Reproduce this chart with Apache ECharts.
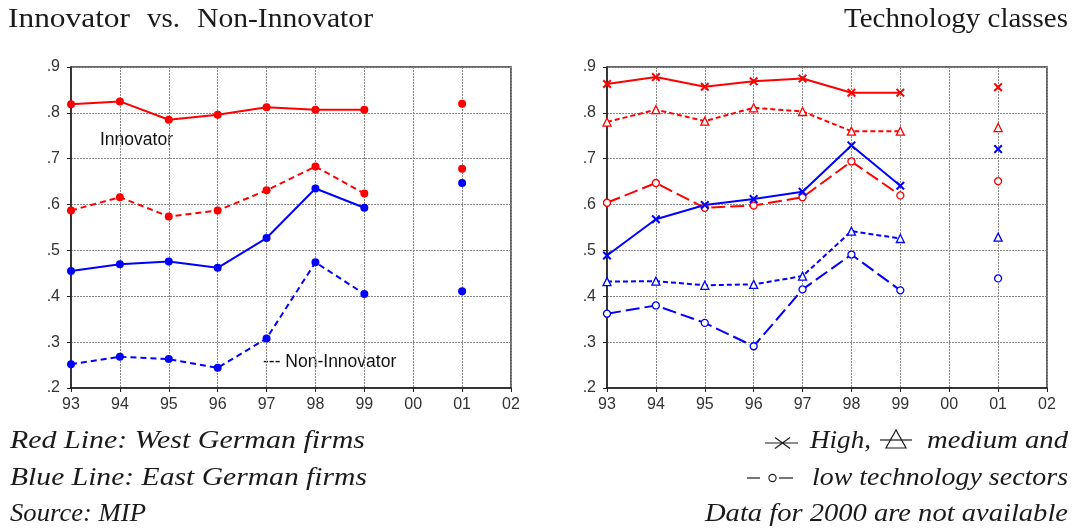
<!DOCTYPE html>
<html>
<head>
<meta charset="utf-8">
<script src="https://cdn.jsdelivr.net/npm/echarts@6/dist/echarts.min.js"></script>
<style>html,body{margin:0;padding:0;background:#fff;}#c{width:1073px;height:529px;}</style>
</head>
<body>
<div id="c"></div>
<script>
const years = ['93','94','95','96','97','98','99','00','01','02'];
const yTicks = ['.2','.3','.4','.5','.6','.7','.8','.9'];
// Left panel: innovator / non-innovator shares
const innovWest    = [0.819,0.825,0.785,0.796,0.812,0.807,0.807,null,0.820,null];
const nonInnovWest = [0.587,0.616,0.574,0.587,0.631,0.683,0.624,null,0.678,null];
const innovEast    = [0.455,0.470,0.476,0.462,0.527,0.635,0.593,null,0.647,null];
const nonInnovEast = [0.252,0.268,0.263,0.244,0.308,0.474,0.405,null,0.411,null];
// Right panel: technology classes
const highWest = [0.863,0.878,0.857,0.869,0.875,0.844,0.844,null,0.856,null];
const medWest  = [0.780,0.807,0.782,0.811,0.803,0.760,0.760,null,0.768,null];
const lowWest  = [0.604,0.647,0.593,0.598,0.616,0.694,0.620,null,0.651,null];
const highEast = [0.489,0.568,0.599,0.612,0.628,0.729,0.641,null,0.721,null];
const medEast  = [0.432,0.433,0.424,0.426,0.444,0.542,0.526,null,0.529,null];
const lowEast  = [0.362,0.380,0.342,0.291,0.415,0.491,0.413,null,0.439,null];

const RED = '#ff0000', BLUE = '#0000ff';
const XSYM = 'path://M0,1.6L1.6,0L5,3.4L8.4,0L10,1.6L6.6,5L10,8.4L8.4,10L5,6.6L1.6,10L0,8.4L3.4,5Z';

function xAxis(gi){
  return {type:'category', gridIndex:gi, data:years, boundaryGap:false,
    axisLine:{show:true,lineStyle:{color:'#222',width:1.5}},
    axisTick:{show:true,length:4,lineStyle:{color:'#222'}},
    axisLabel:{color:'#333',fontFamily:'Liberation Sans',fontSize:16,margin:9,interval:0},
    splitLine:{show:true,lineStyle:{color:'#888',type:[2,1],width:1}}};
}
function yAxis(gi){
  return {type:'value', gridIndex:gi, min:0.2, max:0.9, interval:0.1,
    axisLine:{show:true,lineStyle:{color:'#222',width:1.5}},
    axisTick:{show:true,length:4,lineStyle:{color:'#222'}},
    axisLabel:{color:'#333',fontFamily:'Liberation Sans',fontSize:16,margin:11,
      formatter:function(v){return yTicks[Math.round((v-0.2)*10)];}},
    splitLine:{show:true,lineStyle:{color:'#888',type:[2,1],width:1}}};
}
function s(gi,data,color,dash,symbol,size,hollow){
  return {type:'line', xAxisIndex:gi, yAxisIndex:gi, data:data, connectNulls:false,
    symbol:symbol, symbolSize:size, showSymbol:true, animation:false,
    lineStyle:{color:color,width:2,type:dash},
    itemStyle: hollow ? {color:'#fff',borderColor:color,borderWidth:1.3} : {color:color,borderWidth:0}};
}

// text fitted horizontally between x0 and x1
const mctx = document.createElement('canvas').getContext('2d');
function fitText(text, font, x0, x1, y){
  mctx.font = font;
  const w = mctx.measureText(text).width;
  return {type:'text', x:x0, y:y, scaleX:(x1-x0)/w, silent:true,
    style:{text:text, font:font, fill:'#1a1a1a', align:'left', verticalAlign:'middle'}};
}
const TF = '28px "Liberation Serif"';
const IF = 'italic 26px "Liberation Serif"';
const K = '#1a1a1a';
function ln(x1,y1,x2,y2){return {type:'line',silent:true,shape:{x1:x1,y1:y1,x2:x2,y2:y2},style:{stroke:K,lineWidth:1.2}};}

const chart = echarts.init(document.getElementById('c'), null, {renderer:'canvas'});
chart.setOption({
  animation:false,
  grid:[
    {left:71,right:562,top:67,bottom:141,show:true,borderColor:'#333',borderWidth:1.5},
    {left:607,right:26,top:67,bottom:141,show:true,borderColor:'#333',borderWidth:1.5}
  ],
  xAxis:[xAxis(0),xAxis(1)],
  yAxis:[yAxis(0),yAxis(1)],
  series:[
    s(0,innovWest,RED,'solid','circle',8,false),
    s(0,nonInnovWest,RED,[6,4],'circle',8,false),
    s(0,innovEast,BLUE,'solid','circle',8,false),
    s(0,nonInnovEast,BLUE,[6,4],'circle',8,false),
    s(1,highWest,RED,'solid',XSYM,9,false),
    s(1,medWest,RED,[5,3],'triangle',8,true),
    s(1,lowWest,RED,[14,5],'circle',7,true),
    s(1,highEast,BLUE,'solid',XSYM,9,false),
    s(1,medEast,BLUE,[5,3],'triangle',8,true),
    s(1,lowEast,BLUE,[14,5],'circle',7,true)
  ],
  graphic:[
    fitText('Innovator', TF, 8, 130, 19.5),
    fitText('vs.', TF, 147, 180, 19.5),
    fitText('Non-Innovator', TF, 197, 373, 19.5),
    fitText('Technology classes', TF, 844, 1068, 19.5),
    {type:'text',x:100,y:140,silent:true,style:{text:'Innovator',font:'17.5px "Liberation Sans"',fill:'#111',verticalAlign:'middle'}},
    {type:'text',x:263,y:362,silent:true,style:{text:'--- Non-Innovator',font:'17.5px "Liberation Sans"',fill:'#111',verticalAlign:'middle'}},
    fitText('Red Line: West German firms', IF, 10, 365, 441),
    fitText('Blue Line: East German firms', IF, 10, 367, 478),
    fitText('Source: MIP', IF, 10, 146, 514),
    // legend symbol: line with x
    ln(765,443,798,443), ln(775,437.5,790,448.5), ln(775,448.5,790,437.5),
    fitText('High,', IF, 810, 871, 441),
    // legend symbol: line with triangle
    ln(880,440,912,440),
    {type:'polygon',silent:true,shape:{points:[[896,430],[886,448],[906,448]]},style:{fill:'none',stroke:K,lineWidth:1.2}},
    fitText('medium and', IF, 927, 1068, 441),
    // legend symbol: dash circle dash
    ln(747,478,760,478),
    {type:'circle',silent:true,shape:{cx:772.5,cy:478,r:3.6},style:{fill:'none',stroke:K,lineWidth:1.1}},
    ln(779,478,793,478),
    fitText('low technology sectors', IF, 812, 1068, 478),
    fitText('Data for 2000 are not available', IF, 705, 1068, 514)
  ]
});
</script>
</body>
</html>
